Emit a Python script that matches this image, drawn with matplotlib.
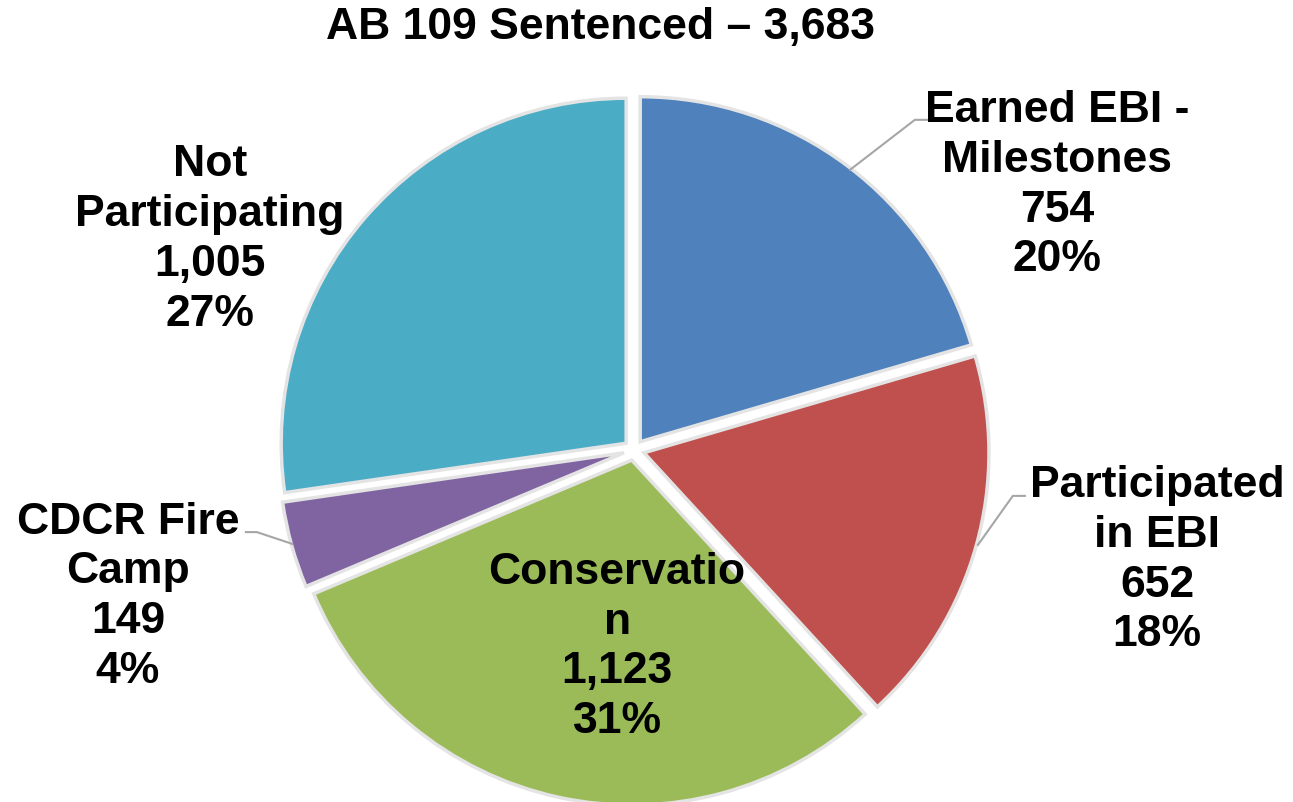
import matplotlib
matplotlib.use("Agg")
import matplotlib.pyplot as plt

plt.rcParams['font.family'] = ['Liberation Sans', 'DejaVu Sans']

# data
categories = ["Earned EBI -\nMilestones", "Participated\nin EBI", "Conservatio\nn", "CDCR Fire\nCamp", "Not\nParticipating"]
counts = [754, 652, 1123, 149, 1005]
percents = ["20%", "18%", "31%", "4%", "27%"]
title = "AB 109 Sentenced \u2013 3,683"

colors = ['#4F81BD', '#C0504D', '#9BBB59', '#8064A2', '#4BACC6']

fig = plt.figure(figsize=(12.93, 8.02), dpi=100)
ax = fig.add_axes([0, 0, 1, 1])

wedges, _ = ax.pie(counts, colors=colors, startangle=90, counterclock=False,
                   explode=[0.03] * len(counts), radius=1,
                   wedgeprops=dict(edgecolor='#E4E4E4', linewidth=2.5))

# pixel scale: center at (634, 450), 345 px per unit
ax.set_xlim(-634 / 345, (1293 - 634) / 345)
ax.set_ylim(-(802 - 450) / 345, 450 / 345)
ax.set_aspect('auto')
ax.axis('off')

# label positions
label_pos = [(1.226, 0.768), (1.516, -0.319), (-0.049, -0.571), (-1.467, -0.426), (-1.229, 0.609)]
for i in range(len(counts)):
    txt = "{}\n{:,}\n{}".format(categories[i], counts[i], percents[i])
    ax.text(label_pos[i][0], label_pos[i][1], txt, ha='center', va='center',
            fontsize=32, fontweight='bold', linespacing=1.28)

# leader lines
leaders = [
    [(0.626, 0.812), (0.814, 0.957), (0.849, 0.957)],
    [(0.997, -0.275), (1.098, -0.133), (1.133, -0.133)],
    [(-0.991, -0.272), (-1.093, -0.238), (-1.125, -0.238)],
]
for pts in leaders:
    ax.plot([p[0] for p in pts], [p[1] for p in pts], color='#A6A6A6', lw=1.5)

fig.text(600 / 1293, 1 - 28 / 802, title, ha='center', va='center',
         fontsize=32, fontweight='bold')

plt.savefig("out.png", dpi=100)
